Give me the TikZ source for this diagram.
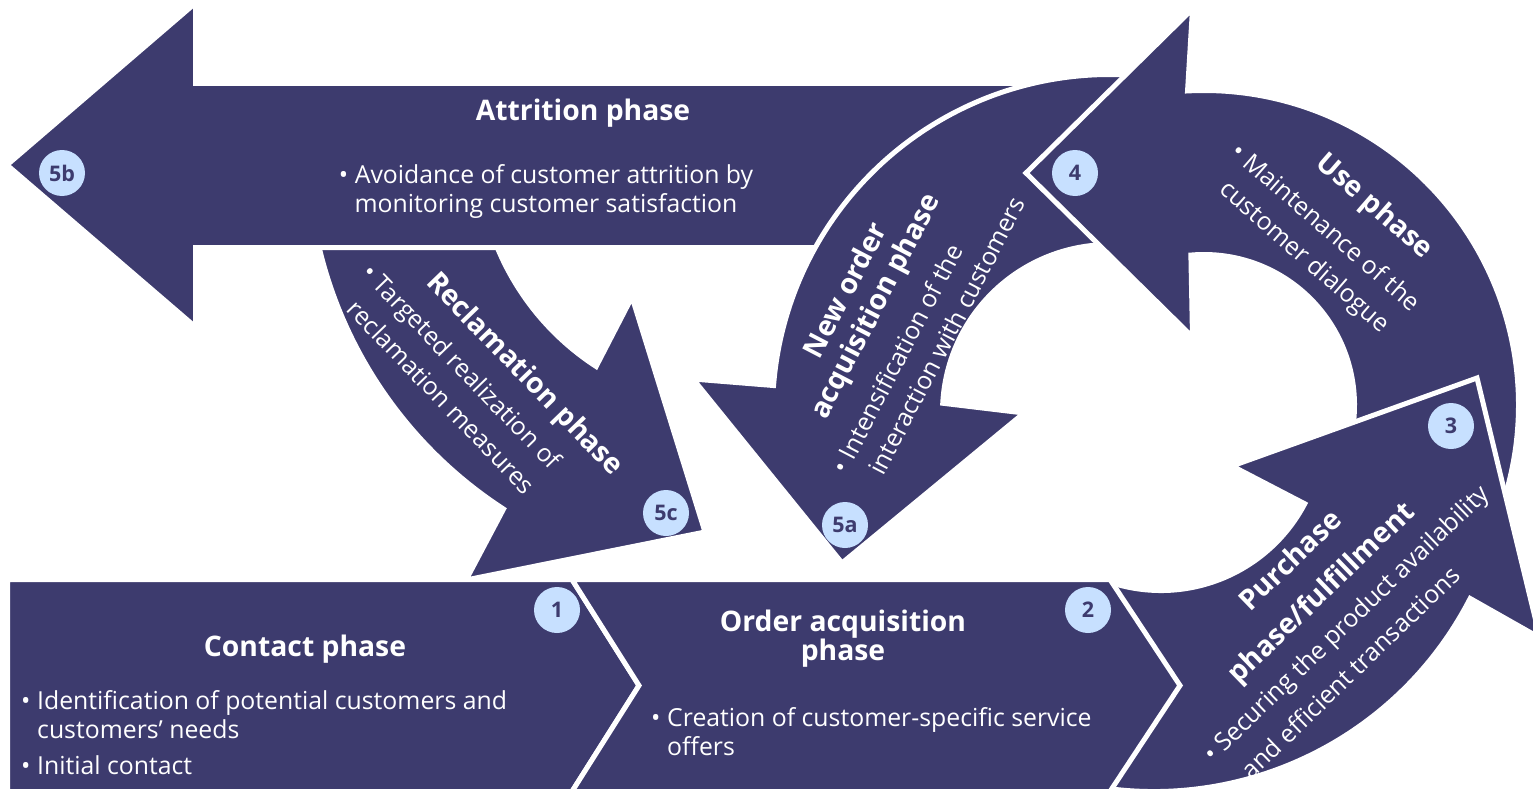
\documentclass[tikz,border=0pt]{standalone}
\usepackage{fontspec}
\setmainfont{Open Sans}
\usetikzlibrary{calc}
\definecolor{lcnavy}{HTML}{3D3B6E}
\definecolor{lcblue}{HTML}{C7E0FF}
\tikzset{
  lcshape/.style  = {fill=lcnavy, draw=white, line width=5pt},
  lctitle/.style  = {text=white, align=center, inner sep=0pt,
                     font=\bfseries\fontsize{28.3}{#1}\selectfont},
  lctitle/.default = 31,
  lcbody/.style   = {text=white, inner sep=0pt, font=\fontsize{24.8}{#1}\selectfont},
  lcbody/.default = 29,
  lcnum/.style    = {circle, fill=lcblue, text=lcnavy, minimum size=46pt, inner sep=0pt,
                     font=\bfseries\fontsize{21.5}{21.5}\selectfont},
}
\newcommand{\lcbul}{\makebox[16pt][l]{\textbullet}}
\newcommand{\lcind}{\makebox[16pt]{}}

\begin{document}
\begin{tikzpicture}[x=1pt, y=-1pt]
\useasboundingbox (0,0) rectangle (1533,789);
\clip (0,0) rectangle (1533,789);

\coordinate (rcl)  at (738,148);
\coordinate (nwo)  at (1110,412);
\coordinate (usc)  at (1204,405);
\coordinate (pin)  at (1161,428);
\coordinate (pout) at (1154,436);

\path[lcshape] ($(rcl)+(168:430.5)$) arc[start angle=168, end angle=123, radius=430.5]
  -- (466,580) -- (705,532) -- (632,297)
  -- ($(rcl)+(123:260.5)$) arc[start angle=123, end angle=168, radius=260.5] -- cycle;
\path[lcshape] (7,165) -- (195.5,3) -- (195.5,83.5) -- (1050,83.5) -- (1050,247.5)
  -- (195.5,247.5) -- (195.5,327) -- cycle;
\path[lcshape] ($(nwo)+(280:337.5)$) arc[start angle=280, end angle=184.5, radius=337.5]
  -- (693,379) -- (842,563) -- (1024,413)
  -- ($(nwo)+(183:167.5)$) arc[start angle=183, end angle=280, radius=167.5] -- cycle;
\path[lcshape] (1192.5,9) -- (1026,173) -- (1192.5,337)
  -- ($(usc)+(265:150.5)$) arc[start angle=265, end angle=380, radius=150.5]
  -- ($(usc)+(380:314.5)$) arc[start angle=380, end angle=267, radius=314.5] -- cycle;
\path[lcshape] ($(pout)+(110:355.5)$) arc[start angle=110, end angle=27.2, radius=355.5]
  -- (1540,638) -- (1477,378) -- (1232,466)
  -- ($(pin)+(27.8:162.5)$) arc[start angle=27.8, end angle=110, radius=162.5] -- cycle;
\path[lcshape] (7.5,579.5) -- (572,579.5) -- (639,685.5) -- (572,791.5) -- (7.5,791.5) -- cycle;
\path[lcshape] (572,579.5) -- (1110,579.5) -- (1180,685.5) -- (1110,791.5) -- (572,791.5)
  -- (639,685.5) -- cycle;

\node[lctitle] (attrtitle) at (583,113) {Attrition phase};
\node[lcbody, align=center] (attrbody) at (546,191)
  {\lcbul Avoidance of customer attrition by\\monitoring customer satisfaction};
\node[lctitle] (contitle) at (305,649) {Contact phase};
\node[lcbody, align=left, anchor=west] (conbody) at (21,733)
  {\lcbul Identification of potential customers and\\\lcind customers’ needs\\[7pt]\lcbul Initial contact};
\node[lctitle=29] (ordtitle) at (843,639) {Order acquisition\\phase};
\node[lcbody, align=left, anchor=west] (ordbody) at (651,732)
  {\lcbul Creation of customer-specific service\\\lcind offers};
\node[lctitle, rotate=-46] (rectitle) at (524,375) {Reclamation phase};
\node[lcbody=36, align=left, anchor=west, rotate=-46] (recbody) at (354,280)
  {\lcbul Targeted realization of\\\lcind reclamation measures};
\node[lctitle=33.5, rotate=62.5] (newtitle) at (862,299) {New order\\acquisition phase};
\node[lcbody=33.5, align=left, anchor=west, rotate=62.5] (newbody) at (853,479)
  {\lcbul Intensification of the\\\lcind interaction with customers};
\node[lctitle, rotate=-41] (usetitle) at (1374,207) {Use phase};
\node[lcbody=35.5, align=left, anchor=west, rotate=-41] (usebody) at (1222,163)
  {\lcbul Maintenance of the\\\lcind customer dialogue};
\node[lctitle=44.5, rotate=44] (purtitle) at (1307,578) {Purchase\\phase/fulfillment};
\node[lcbody=38.8, align=left, anchor=west, rotate=44] (purbody) at (1220,771)
  {\lcbul Securing the product availability\\\lcind and efficient transactions};

\node[lcnum] (n5b) at (62,173) {5b};
\node[lcnum] (n5c) at (666,513) {5c};
\node[lcnum] (n5a) at (845,525) {5a};
\node[lcnum] (n4)  at (1075,173) {4};
\node[lcnum] (n3)  at (1451,426) {3};
\node[lcnum] (n2)  at (1088,610) {2};
\node[lcnum] (n1)  at (557,610) {1};
\end{tikzpicture}
\end{document}
